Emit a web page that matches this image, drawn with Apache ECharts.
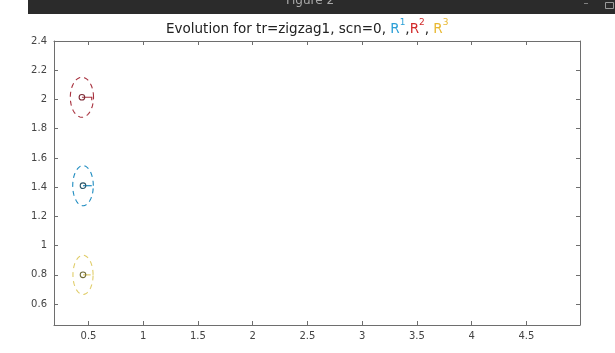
<!DOCTYPE html>
<html>
<head>
<meta charset="utf-8">
<script src="https://cdn.jsdelivr.net/npm/echarts@6/dist/echarts.min.js"></script>
<style>
  html, body { margin: 0; padding: 0; background: #fff; }
  #chart { width: 615px; height: 353px; }
</style>
</head>
<body>
<div id="chart"></div>
<script>
// Robot poses: position, uncertainty ellipse semi-axes, heading stub length
const robotNames = ['R1', 'R2', 'R3'];
const posX = [0.45, 0.44, 0.45];
const posY = [1.41, 2.015, 0.80];
const semiAxisX = [0.094, 0.106, 0.092];
const semiAxisY = [0.137, 0.137, 0.134];
const headingLen = [0.08, 0.09, 0.07];
const headingDrop = [0, -0.02, 0];

const ellipseColors = ['#1f8cc0', '#a8323f', '#e0cd6a'];
const markerColors = ['#2e5566', '#7a2a36', '#6e6b38'];

const xTickValues = [0.5, 1, 1.5, 2, 2.5, 3, 3.5, 4, 4.5];
const yTickValues = [0.6, 0.8, 1, 1.2, 1.4, 1.6, 1.8, 2, 2.2, 2.4];
const xRange = [0.185, 4.99];
const yRange = [0.457, 2.4];

const axisGray = '#6e6e6e';
const fontFamily = 'DejaVu Sans';

function fmt(v) { return String(Math.round(v * 10) / 10); }

function renderPose(params, api) {
  const cx = api.value(0), cy = api.value(1);
  const ax = api.value(2), ay = api.value(3);
  const hl = api.value(4), hd = api.value(5);
  const i = params.dataIndex;
  const pts = [];
  const n = 72;
  for (let k = 0; k <= n; k++) {
    const t = (k / n) * Math.PI * 2;
    pts.push(api.coord([cx + ax * Math.cos(t), cy + ay * Math.sin(t)]));
  }
  const c = api.coord([cx, cy]);
  const h1 = api.coord([cx + hl, cy]);
  const h2 = api.coord([cx + hl, cy + hd]);
  return {
    type: 'group',
    children: [
      {
        type: 'polyline',
        shape: { points: pts },
        style: { stroke: ellipseColors[i], fill: null, lineWidth: 1.1, lineDash: [5, 4] },
        silent: true
      },
      {
        type: 'polyline',
        shape: { points: [c, h1, h2] },
        style: { stroke: ellipseColors[i], fill: null, lineWidth: 1.2 },
        silent: true
      },
      {
        type: 'circle',
        shape: { cx: c[0], cy: c[1], r: 2.8 },
        style: { stroke: markerColors[i], fill: null, lineWidth: 1.1 },
        silent: true
      }
    ]
  };
}

const poseData = robotNames.map((name, i) => [posX[i], posY[i], semiAxisX[i], semiAxisY[i], headingLen[i], headingDrop[i]]);

const chart = echarts.init(document.getElementById('chart'), null, { renderer: 'canvas' });

const xAxisBase = {
  type: 'value', min: xRange[0], max: xRange[1],
  axisLine: { show: true, onZero: false, lineStyle: { color: axisGray, width: 1 } },
  axisTick: { show: true, inside: true, length: 4, customValues: xTickValues, lineStyle: { color: axisGray } },
  splitLine: { show: false }
};
const yAxisBase = {
  type: 'value', min: yRange[0], max: yRange[1],
  axisLine: { show: true, onZero: false, lineStyle: { color: axisGray, width: 1 } },
  axisTick: { show: true, inside: true, length: 4, customValues: yTickValues, lineStyle: { color: axisGray } },
  splitLine: { show: false }
};

function richPart(size, color, align) {
  return { fontSize: size, color: color, fontFamily: fontFamily, fontWeight: 'normal', lineHeight: 18, verticalAlign: align };
}

chart.setOption({
  animation: false,
  backgroundColor: '#ffffff',
  textStyle: { fontFamily: fontFamily },
  title: {
    left: 161,
    top: 13,
    text: '{t|Evolution for tr=zigzag1, scn=0, }{b|R}{bs|1}{t|,}{r|R}{rs|2}{t|, }{y|R}{ys|3}',
    textStyle: {
      fontWeight: 'normal',
      rich: {
        t: richPart(13.5, '#222', 'bottom'),
        b: richPart(13.5, '#2a9fd6', 'bottom'),
        r: richPart(13.5, '#d12a2a', 'bottom'),
        y: richPart(13.5, '#e8b830', 'bottom'),
        bs: richPart(9, '#2a9fd6', 'top'),
        rs: richPart(9, '#d12a2a', 'top'),
        ys: richPart(9, '#e8b830', 'top')
      }
    }
  },
  grid: { left: 54, top: 41, right: 35, bottom: 28, containLabel: false },
  xAxis: [
    Object.assign({}, xAxisBase, {
      position: 'bottom',
      axisLabel: { show: true, customValues: xTickValues, formatter: fmt, color: '#444', fontSize: 10, margin: 6, fontFamily: fontFamily }
    }),
    Object.assign({}, xAxisBase, { position: 'top', axisLabel: { show: false } })
  ],
  yAxis: [
    Object.assign({}, yAxisBase, {
      position: 'left',
      axisLabel: { show: true, customValues: yTickValues, formatter: fmt, color: '#444', fontSize: 10, margin: 7, fontFamily: fontFamily }
    }),
    Object.assign({}, yAxisBase, { position: 'right', axisLabel: { show: false } })
  ],
  series: [
    {
      type: 'custom',
      name: 'poses',
      xAxisIndex: 0,
      yAxisIndex: 0,
      renderItem: renderPose,
      data: poseData,
      encode: { x: 0, y: 1 },
      clip: false
    }
  ],
  graphic: [
    { type: 'rect', left: 28, top: 0, shape: { width: 587, height: 14 }, style: { fill: '#2b2b2b' }, silent: true },
    { type: 'text', x: 310, y: 1, style: { text: 'Figure 2', fill: '#a8a8a8', font: '12px "DejaVu Sans"', textAlign: 'center', textVerticalAlign: 'middle' }, silent: true },
    { type: 'text', x: 586, y: 3, style: { text: '\u2013', fill: '#9a9a9a', font: '10px "DejaVu Sans"', textAlign: 'center', textVerticalAlign: 'middle' }, silent: true },
    { type: 'rect', left: 603, top: 0, shape: { width: 8, height: 6 }, style: { fill: null, stroke: '#9a9a9a', lineWidth: 1 }, silent: true }
  ]
});
</script>
</body>
</html>
